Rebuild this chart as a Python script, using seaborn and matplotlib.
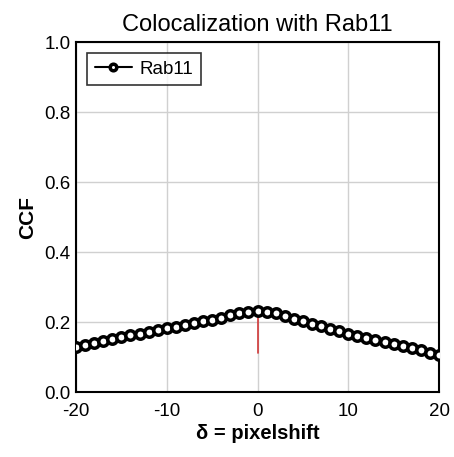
import matplotlib
matplotlib.use("Agg")
import matplotlib.pyplot as plt
import seaborn as sns
import numpy as np
import pandas as pd

shift = list(range(-20, 21))
ccf = [0.128, 0.134, 0.140, 0.146, 0.152, 0.157, 0.162, 0.167, 0.172, 0.177,
       0.182, 0.187, 0.192, 0.197, 0.202, 0.207, 0.213, 0.219, 0.225, 0.229,
       0.231,
       0.229, 0.225, 0.218, 0.210, 0.202, 0.195, 0.188, 0.181, 0.174, 0.167,
       0.161, 0.155, 0.149, 0.143, 0.137, 0.131, 0.125, 0.119, 0.113, 0.106]
series_name = "Rab11"
peak_line = [0.111, 0.231]
title = "Colocalization with Rab11"
xlabel = "δ = pixelshift"
ylabel = "CCF"
xticks = [-20, -10, 0, 10, 20]
yticks = [0.0, 0.2, 0.4, 0.6, 0.8, 1.0]

sns.set_style("white")
plt.rcParams['font.family'] = ['Liberation Sans', 'DejaVu Sans']
for k in ["text.color", "axes.labelcolor", "xtick.color", "ytick.color"]:
    plt.rcParams[k] = "black"

df = pd.DataFrame({"shift": shift, "ccf": ccf, "series": series_name})

fig = plt.figure(figsize=(4.54, 4.57), dpi=100)
ax = fig.add_axes([0.1674, 0.142, 0.7996, 0.766])

ax.grid(True, color="#d0d0d0", linewidth=1.0)
ax.set_axisbelow(True)

ax.plot([0, 0], peak_line, color="#d03838", linewidth=1.2, zorder=2)

sns.lineplot(data=df, x="shift", y="ccf", ax=ax, color="black", linewidth=1.5,
             marker="o", markersize=6.8, markerfacecolor="white",
             markeredgecolor="black", markeredgewidth=2.5, label=series_name,
             zorder=3)

ax.set_xlim(-20, 20)
ax.set_ylim(0, 1.0)
ax.set_xticks(xticks)
ax.set_xticklabels([str(t) for t in xticks])
ax.set_yticks(yticks)
ax.set_yticklabels([f"{t:.1f}" for t in yticks])
ax.tick_params(axis="x", labelsize=13.5, length=0, pad=8)
ax.tick_params(axis="y", labelsize=13.5, length=0, pad=4)

for s in ax.spines.values():
    s.set_color("black")
    s.set_linewidth(1.5)

ax.set_title(title, fontsize=17, pad=8, color="black")
ax.set_xlabel(xlabel, fontsize=14.5, fontweight="bold", labelpad=3)
ax.set_ylabel(ylabel, fontsize=15, fontweight="bold", labelpad=5)

leg = ax.legend(loc="upper left", fontsize=13.5, frameon=True, fancybox=False,
                edgecolor="black", handlelength=2.0, handletextpad=0.4,
                borderpad=0.4, borderaxespad=0.6, markerscale=0.7)
leg.get_frame().set_linewidth(1.2)
for t in leg.get_texts():
    t.set_color("black")

fig.savefig("out.png", dpi=100)
